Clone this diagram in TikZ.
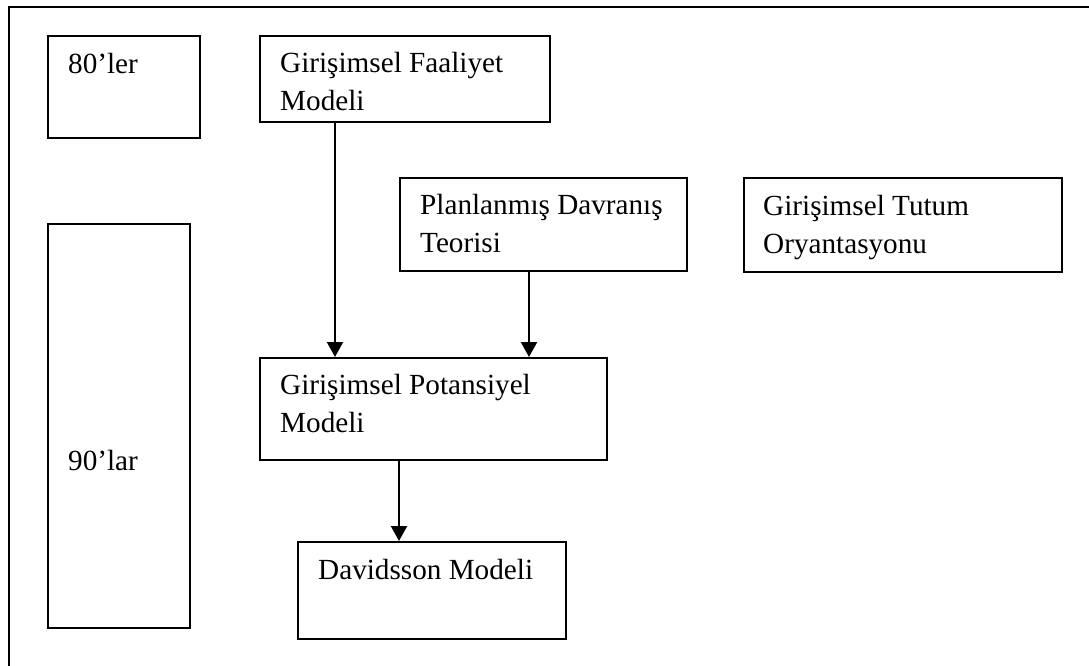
\documentclass[tikz,border=0pt]{standalone}
\usepackage{fontspec}
\setmainfont{Liberation Serif}
\usetikzlibrary{arrows.meta}
\begin{document}
\begin{tikzpicture}[x=1pt,y=-1pt,
  box/.style={draw=black, line width=2.2pt, rectangle, inner sep=0pt, anchor=north west},
  txt/.style={inner sep=0pt, anchor=base west, align=left, font=\fontsize{29.2}{38}\selectfont},
  arr/.style={draw=black, line width=2.2pt, -{Triangle[width=16pt,length=15pt]}},
  frame/.style={draw=black, line width=2.2pt}]
\useasboundingbox (0,0) rectangle (1089,666);
\coordinate (fa) at (1089,7);
\coordinate (fb) at (9,7);
\coordinate (fc) at (9,666);
\draw[frame] (fa) -- (fb) -- (fc);

\node[box, minimum width=152pt, minimum height=102pt] (b80) at (47,35) {};
\node[txt] (t80) at (68,74) {80’ler};

\node[box, minimum width=290pt, minimum height=86pt] (gfm) at (259,35) {};
\node[txt] (tgfm) at (280,111) {Girişimsel Faaliyet\\Modeli};

\node[box, minimum width=287pt, minimum height=93pt] (pdt) at (399,177) {};
\node[txt] (tpdt) at (420,252) {Planlanmış Davranış\\Teorisi};

\node[box, minimum width=318pt, minimum height=94pt] (gto) at (743,177) {};
\node[txt] (tgto) at (763,253) {Girişimsel Tutum\\Oryantasyonu};

\node[box, minimum width=142pt, minimum height=404pt] (b90) at (47,223) {};
\node[txt] (t90) at (68,470) {90’lar};

\node[box, minimum width=347pt, minimum height=102pt] (gpm) at (259,357) {};
\node[txt] (tgpm) at (280,432) {Girişimsel Potansiyel\\Modeli};

\node[box, minimum width=268pt, minimum height=97pt] (dav) at (297,541) {};
\node[txt] (tdav) at (318,579) {Davidsson Modeli};

\coordinate (x1) at (335,0);
\coordinate (x2) at (529,0);
\coordinate (x3) at (399,0);
\draw[arr] (gfm.south -| x1) -- (gpm.north -| x1);
\draw[arr] (pdt.south -| x2) -- (gpm.north -| x2);
\draw[arr] (gpm.south -| x3) -- (dav.north -| x3);
\end{tikzpicture}
\end{document}
